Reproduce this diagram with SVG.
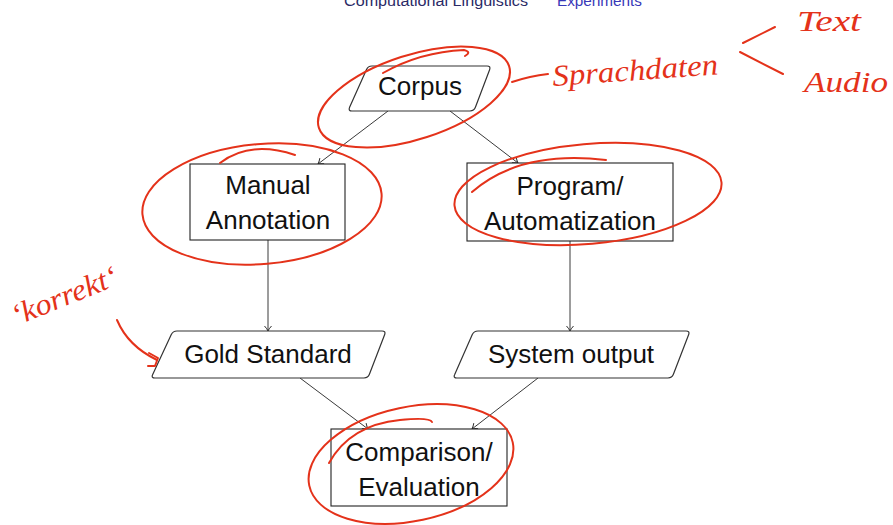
<svg xmlns="http://www.w3.org/2000/svg" width="893" height="525" viewBox="0 0 893 525">
  <defs>
    <marker id="arr" viewBox="-6 -5 8 10" markerWidth="8" markerHeight="10" refX="0" refY="0" orient="auto" markerUnits="userSpaceOnUse">
      <path d="M-5,-3.5 Q-2,-0.8 0,0 Q-2,0.8 -5,3.5" fill="none" stroke="#333" stroke-width="1"/>
    </marker>
    <style>
      .hdr { font-family: "Liberation Sans", Arial, sans-serif; font-size: 14px; }
      .lbl { font-family: "Liberation Sans", Arial, sans-serif; font-size: 26px; fill: #111; text-anchor: middle; }
      .box { fill: #fff; stroke: #222; stroke-width: 1.1; }
      .para { fill: #fff; stroke: #333; stroke-width: 1.2; }
      .edge { fill: none; stroke: #3a3a3a; stroke-width: 1; marker-end: url(#arr); }
      .ink { fill: none; stroke: #e4321a; stroke-width: 2; stroke-linecap: round; stroke-linejoin: round; }
      .hand { font-family: "Liberation Serif", serif; font-style: italic; fill: #e4321a; }
    </style>
  </defs>

  <!-- slide header -->
  <text class="hdr" x="344" y="6" fill="#2a2a66" textLength="184" lengthAdjust="spacingAndGlyphs">Computational Linguistics</text>
  <text class="hdr" x="557" y="6" fill="#3838b8" textLength="85" lengthAdjust="spacingAndGlyphs">Experiments</text>

  <!-- connectors -->
  <g id="connectors">
    <line class="edge" x1="388" y1="111" x2="318" y2="164"/>
    <line class="edge" x1="450" y1="111" x2="518" y2="163"/>
    <line class="edge" x1="268" y1="240" x2="268" y2="331"/>
    <line class="edge" x1="570" y1="241" x2="570" y2="331"/>
    <line class="edge" x1="300" y1="378" x2="368" y2="429"/>
    <line class="edge" x1="538" y1="378" x2="472" y2="429"/>
  </g>

  <!-- nodes -->
  <g id="corpus">
    <path class="para" d="M372,66 H487 Q491,66 489.6,69.7 L475.4,107.3 Q474,111 470,111 H352 Q348,111 349.6,107.3 L366.4,69.7 Q368,66 372,66 Z"/>
    <text class="lbl" x="420" y="95">Corpus</text>
  </g>
  <g id="manual">
    <rect class="box" x="190" y="164" width="155" height="76"/>
    <text class="lbl" x="268" y="194">Manual</text>
    <text class="lbl" x="268" y="229">Annotation</text>
  </g>
  <g id="program">
    <rect class="box" x="467" y="163" width="206" height="78"/>
    <text class="lbl" x="570" y="195">Program/</text>
    <text class="lbl" x="570" y="230">Automatization</text>
  </g>
  <g id="gold">
    <path class="para" d="M177,331 H382 Q386,331 384.6,334.7 L369.4,374.3 Q368,378 364,378 H155 Q151,378 152.7,374.4 L171.3,334.6 Q173,331 177,331 Z"/>
    <text class="lbl" x="268" y="363">Gold Standard</text>
  </g>
  <g id="system">
    <path class="para" d="M478,331 H686 Q690,331 688.6,334.7 L673.4,374.3 Q672,378 668,378 H457 Q453,378 454.7,374.4 L472.3,334.6 Q474,331 478,331 Z"/>
    <text class="lbl" x="571" y="363">System output</text>
  </g>
  <g id="comparison">
    <rect class="box" x="331" y="429" width="176" height="77"/>
    <text class="lbl" x="419" y="461">Comparison/</text>
    <text class="lbl" x="419" y="496">Evaluation</text>
  </g>

  <!-- red pen notes -->
  <g id="notes">
    <ellipse class="ink" cx="414" cy="97" rx="100" ry="42" transform="rotate(-18 414 97)"/>
    <path class="ink" d="M383,73 Q420,52 464,50 Q472,52 465,56" stroke-width="1.4"/>
    <path class="ink" d="M512,82 Q530,76 548,74"/>
    <text class="hand" x="553" y="86" font-size="30" textLength="166" lengthAdjust="spacingAndGlyphs" transform="rotate(-4 553 86)">Sprachdaten</text>
    <path class="ink" d="M775,27 L743,43"/>
    <path class="ink" d="M740,52 L783,74"/>
    <text class="hand" x="797" y="31" font-size="30" textLength="64" lengthAdjust="spacingAndGlyphs">Text</text>
    <text class="hand" x="804" y="92" font-size="30" textLength="84" lengthAdjust="spacingAndGlyphs">Audio</text>

    <ellipse class="ink" cx="262" cy="204" rx="120" ry="60" transform="rotate(-5 262 204)"/>
    <path class="ink" d="M220,163 Q250,140 295,155" stroke-width="1.5"/>

    <ellipse class="ink" cx="588" cy="194" rx="134" ry="50" transform="rotate(-5 588 194)"/>
    <path class="ink" d="M472,192 Q520,150 606,160" stroke-width="1.4"/>

    <ellipse class="ink" cx="411" cy="464" rx="104" ry="57" transform="rotate(-12 411 464)"/>
    <path class="ink" d="M329,463 Q350,425 400,420 Q430,417 432,422" stroke-width="1.4"/>

    <text class="hand" x="16" y="326" font-size="30" textLength="112" lengthAdjust="spacingAndGlyphs" transform="rotate(-22 16 326)">‘korrekt‘</text>
    <path class="ink" d="M117,320 Q128,346 157,360"/>
    <path class="ink" d="M149,353 L158,358 L155,366 L148,366"/>
  </g>
</svg>
